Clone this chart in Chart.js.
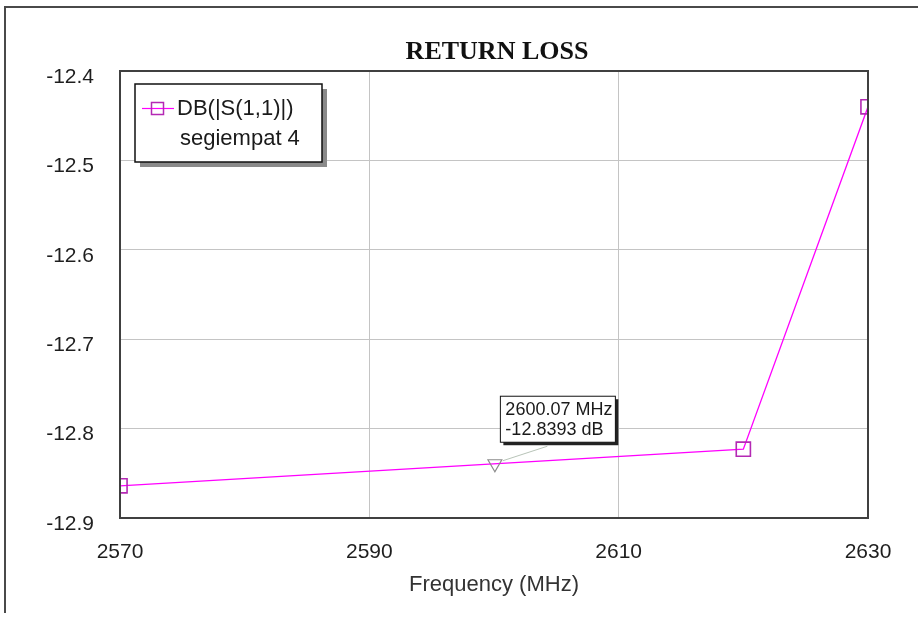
<!DOCTYPE html>
<html>
<head>
<meta charset="utf-8">
<title>RETURN LOSS</title>
<script src="https://cdn.jsdelivr.net/npm/chart.js@4.4.1/dist/chart.umd.min.js"></script>
<style>
  html, body { margin: 0; padding: 0; background: #ffffff; }
  #wrap { position: relative; width: 918px; height: 619px; }
</style>
</head>
<body>
<div id="wrap"><canvas id="chart" width="918" height="619"></canvas></div>
<script>
// Swept S11 of the "segiempat 4" patch
const freqMHz = [2570, 2620, 2630];
const s11dB = [-12.864, -12.823, -12.44];

// Marker readout
const markerFreq = [2600.07];
const markerDb = [-12.8393];

const xTicks = [2570, 2590, 2610, 2630];
const yTicks = [-12.9, -12.8, -12.7, -12.6, -12.5, -12.4];

const traceName = ['DB(|S(1,1)|)', 'segiempat 4'];
const chartTitle = 'RETURN LOSS';
const xTitle = 'Frequency (MHz)';

const MAGENTA = '#ff00ff';
const MARK = '#b429b4';
const SANS = '"Liberation Sans", Arial, sans-serif';

const frame = {
  id: 'frame',
  beforeDraw(chart) {
    const ctx = chart.ctx;
    ctx.save();
    ctx.fillStyle = '#ffffff';
    ctx.fillRect(0, 0, chart.width, chart.height);
    ctx.strokeStyle = '#4a4a4a';
    ctx.lineWidth = 2;
    ctx.beginPath();
    ctx.moveTo(918, 7);
    ctx.lineTo(5, 7);
    ctx.lineTo(5, 613);
    ctx.stroke();
    ctx.restore();
  },
  afterDraw(chart) {
    const ctx = chart.ctx;
    const a = chart.chartArea;
    const xs = chart.scales.x, ys = chart.scales.y;
    ctx.save();

    // plot border
    ctx.strokeStyle = '#404040';
    ctx.lineWidth = 2;
    ctx.strokeRect(a.left, a.top, a.right - a.left, a.bottom - a.top);

    // title
    ctx.fillStyle = '#111111';
    ctx.font = 'bold 26px "Liberation Serif", "Times New Roman", serif';
    ctx.textAlign = 'center';
    ctx.textBaseline = 'alphabetic';
    ctx.fillText(chartTitle, 497, 59);

    // legend box with drop shadow
    const lx = 135, ly = 84, lw = 187, lh = 78;
    ctx.fillStyle = '#8a8a8a';
    ctx.fillRect(lx + 5, ly + 5, lw, lh);
    ctx.fillStyle = '#ffffff';
    ctx.fillRect(lx, ly, lw, lh);
    ctx.strokeStyle = '#111111';
    ctx.lineWidth = 1.5;
    ctx.strokeRect(lx, ly, lw, lh);
    ctx.strokeStyle = MAGENTA;
    ctx.lineWidth = 1.2;
    ctx.beginPath();
    ctx.moveTo(142, 108.5);
    ctx.lineTo(174, 108.5);
    ctx.stroke();
    ctx.strokeStyle = MARK;
    ctx.lineWidth = 1.5;
    ctx.strokeRect(151.5, 102.5, 12, 12);
    ctx.fillStyle = '#1a1a1a';
    ctx.font = '22px ' + SANS;
    ctx.textAlign = 'left';
    ctx.textBaseline = 'middle';
    ctx.fillText(traceName[0], 177, 109);
    ctx.fillText(traceName[1], 180, 139);

    // marker readout box
    const px = xs.getPixelForValue(markerFreq[0]);
    const py = ys.getPixelForValue(markerDb[0]);
    const bx = px + 5.5, by = py - 67.5, bw = 115, bh = 46;
    ctx.strokeStyle = '#b8c4b8';
    ctx.lineWidth = 1;
    ctx.beginPath();
    ctx.moveTo(px + 8, py - 3);
    ctx.lineTo(bx + 47, by + bh + 4);
    ctx.stroke();
    ctx.fillStyle = '#222222';
    ctx.fillRect(bx + 3, by + 3, bw, bh);
    ctx.fillStyle = '#ffffff';
    ctx.fillRect(bx, by, bw, bh);
    ctx.strokeStyle = '#111111';
    ctx.lineWidth = 1;
    ctx.strokeRect(bx, by, bw, bh);
    ctx.fillStyle = '#1a1a1a';
    ctx.font = '18px ' + SANS;
    ctx.textAlign = 'left';
    ctx.textBaseline = 'middle';
    ctx.fillText(markerFreq[0].toFixed(2) + ' MHz', bx + 5, by + 14);
    ctx.fillText(markerDb[0].toFixed(4) + ' dB', bx + 5, by + 34);

    ctx.restore();
  }
};

new Chart(document.getElementById('chart'), {
  type: 'scatter',
  data: {
    datasets: [
      {
        label: traceName.join(' '),
        data: freqMHz.map((f, i) => ({ x: f, y: s11dB[i] })),
        showLine: true,
        borderColor: MAGENTA,
        borderWidth: 1.3,
        pointStyle: 'rect',
        pointRadius: 10,
        pointBorderColor: MARK,
        pointBorderWidth: 1.6,
        pointBackgroundColor: 'rgba(0,0,0,0)',
        clip: 0,
        order: 2
      },
      {
        label: 'marker',
        data: markerFreq.map((f, i) => ({ x: f, y: markerDb[i] })),
        showLine: false,
        pointStyle: 'triangle',
        rotation: 180,
        pointRadius: 8,
        pointBorderColor: '#8c8c8c',
        pointBorderWidth: 1.2,
        pointBackgroundColor: 'rgba(255,255,255,0)',
        order: 1
      }
    ]
  },
  options: {
    responsive: false,
    animation: false,
    events: [],
    layout: { padding: { top: 71, right: 50, left: 0, bottom: 0 } },
    plugins: {
      legend: { display: false },
      title: { display: false },
      tooltip: { enabled: false }
    },
    scales: {
      x: {
        type: 'linear',
        min: xTicks[0],
        max: xTicks[xTicks.length - 1],
        afterBuildTicks(scale) { scale.ticks = xTicks.map(v => ({ value: v })); },
        afterFit(scale) { scale.height = 101; },
        grid: { color: '#c4c4c4', lineWidth: 1, drawTicks: false },
        border: { display: false },
        ticks: {
          padding: 22,
          color: '#1e1e1e',
          font: { family: SANS, size: 21 },
          maxRotation: 0,
          callback: v => String(v)
        },
        title: {
          display: true,
          text: xTitle,
          color: '#333333',
          font: { family: SANS, size: 22 },
          padding: { top: 0, bottom: 21 }
        }
      },
      y: {
        type: 'linear',
        min: yTicks[0],
        max: yTicks[yTicks.length - 1],
        afterBuildTicks(scale) { scale.ticks = yTicks.map(v => ({ value: v })); },
        afterFit(scale) { scale.width = 120; },
        grid: { color: '#c4c4c4', lineWidth: 1, drawTicks: false },
        border: { display: false },
        ticks: {
          padding: 26,
          labelOffset: 6,
          color: '#1e1e1e',
          font: { family: SANS, size: 21 },
          callback: v => v.toFixed(1)
        }
      }
    }
  },
  plugins: [frame]
});
</script>
</body>
</html>
